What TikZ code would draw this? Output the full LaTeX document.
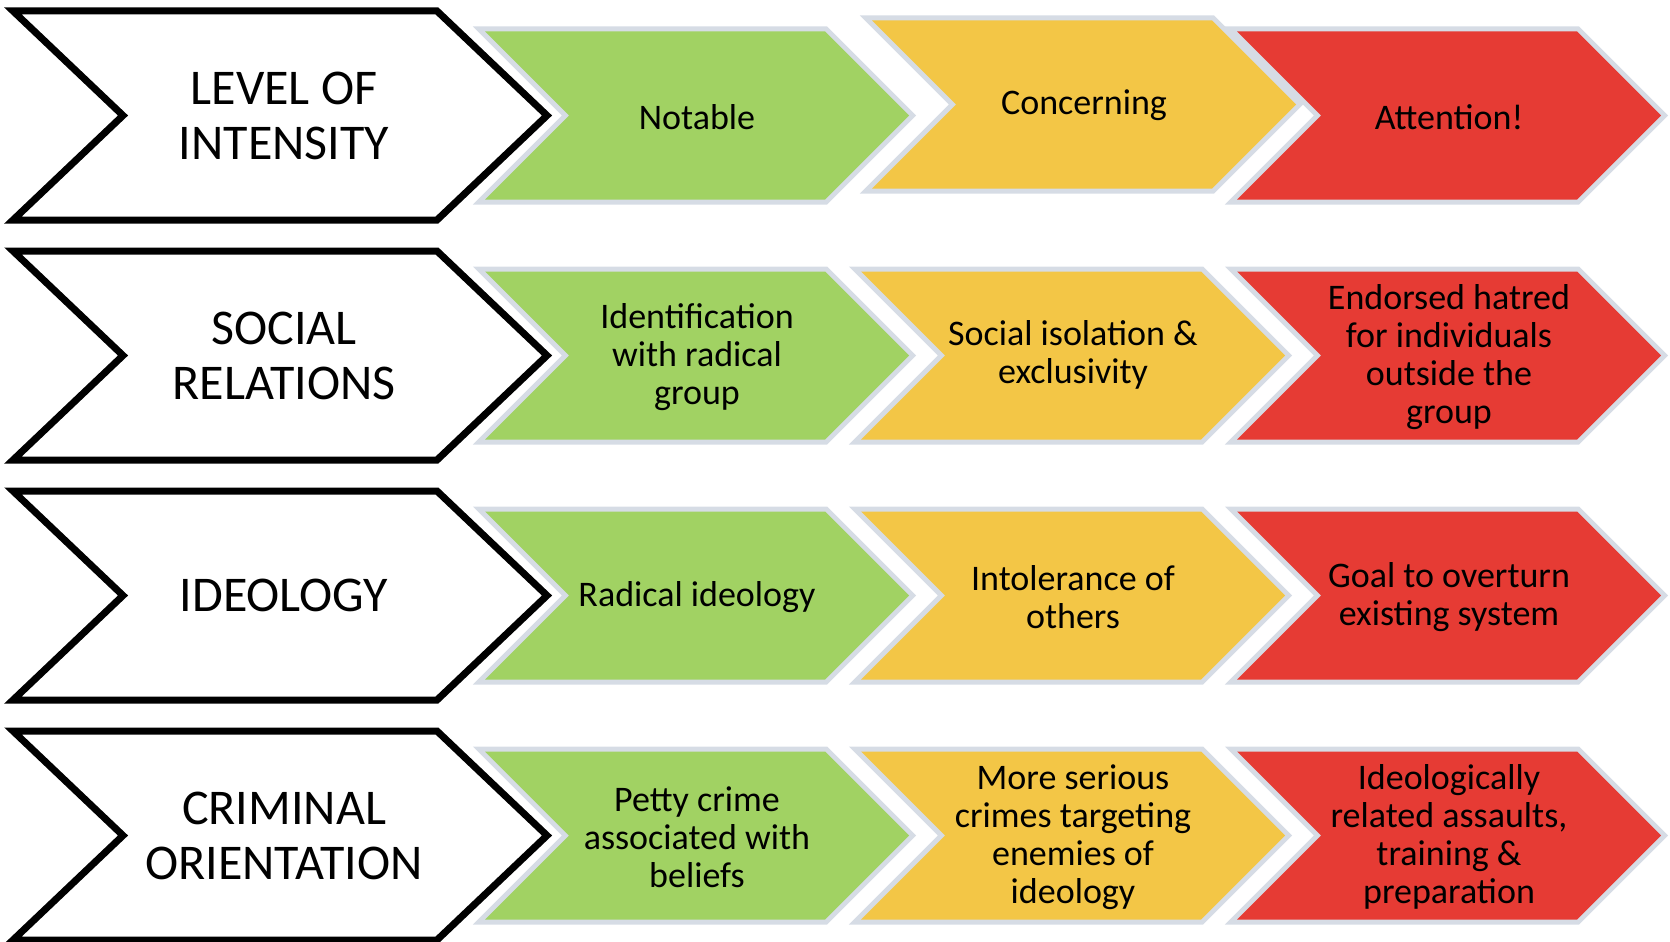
\documentclass[tikz,border=0pt]{standalone}
\usepackage{fontspec}
\setmainfont{Carlito}
\definecolor{cgreen}{RGB}{161,210,99}
\definecolor{cyellow}{RGB}{243,198,70}
\definecolor{cred}{RGB}{230,59,52}
\definecolor{cborder}{RGB}{214,220,229}
\tikzset{
  headbox/.style={draw=black, line width=7pt, fill=white, line join=miter},
  colbox/.style={fill=#1, preaction={draw=cborder, line width=10pt, line join=miter}},
  headtext/.style={align=center, font=\fontsize{50}{55}\selectfont, inner sep=0pt},
  celltext/.style={align=center, font=\fontsize{36}{38}\selectfont, inner sep=0pt},
}
% style, x, yc, w, h, d
\newcommand\chevshape[6]{%
  \path[#1] (#2,#3-#5/2) -- ++(#4,0) -- ++(#6,#5/2) -- ++(-#6,#5/2) -- ++(-#4,0) -- ++(#6,-#5/2) -- cycle;
}
\begin{document}
\begin{tikzpicture}[x=1pt,y=-1pt]
\useasboundingbox (0,0) rectangle (1670,942);
% row 1
\chevshape{headbox}{13}{115.5}{424}{209}{110}
\chevshape{colbox=cgreen}{485}{115.5}{340}{168}{84}
\chevshape{colbox=cyellow}{872}{104.5}{340}{168}{84}
\chevshape{colbox=cred}{1237}{115.5}{340}{168}{84}
\node[headtext] (h1) at (284,115.5) {LEVEL OF\\INTENSITY};
\node[celltext] (a1) at (697,117) {Notable};
\node[celltext] (b1) at (1084,105) {Concerning};
\node[celltext] (c1) at (1449,117) {Attention!};
% row 2
\chevshape{headbox}{13}{355.5}{424}{209}{110}
\chevshape{colbox=cgreen}{485}{355.5}{340}{168}{84}
\chevshape{colbox=cyellow}{861}{355.5}{340}{168}{84}
\chevshape{colbox=cred}{1237}{355.5}{340}{168}{84}
\node[headtext] (h2) at (284,355.5) {SOCIAL\\RELATIONS};
\node[celltext] (a2) at (697,357) {Identification\\with radical\\group};
\node[celltext] (b2) at (1073,355) {Social isolation \&\\exclusivity};
\node[celltext] (c2) at (1449,357) {Endorsed hatred\\for individuals\\outside the\\group};
% row 3
\chevshape{headbox}{13}{595.5}{424}{209}{110}
\chevshape{colbox=cgreen}{485}{595.5}{340}{168}{84}
\chevshape{colbox=cyellow}{861}{595.5}{340}{168}{84}
\chevshape{colbox=cred}{1237}{595.5}{340}{168}{84}
\node[headtext] (h3) at (284,595.5) {IDEOLOGY};
\node[celltext] (a3) at (697,597) {Radical ideology};
\node[celltext] (b3) at (1073,597) {Intolerance of\\others};
\node[celltext] (c3) at (1449,597) {Goal to overturn\\existing system};
% row 4
\chevshape{headbox}{13}{835.5}{424}{209}{110}
\chevshape{colbox=cgreen}{485}{835.5}{340}{168}{84}
\chevshape{colbox=cyellow}{861}{835.5}{340}{168}{84}
\chevshape{colbox=cred}{1237}{835.5}{340}{168}{84}
\node[headtext] (h4) at (284,835.5) {CRIMINAL\\ORIENTATION};
\node[celltext] (a4) at (697,837) {Petty crime\\associated with\\beliefs};
\node[celltext] (b4) at (1073,837) {More serious\\crimes targeting\\enemies of\\ideology};
\node[celltext] (c4) at (1449,837) {Ideologically\\related assaults,\\training \&\\preparation};
\end{tikzpicture}
\end{document}
